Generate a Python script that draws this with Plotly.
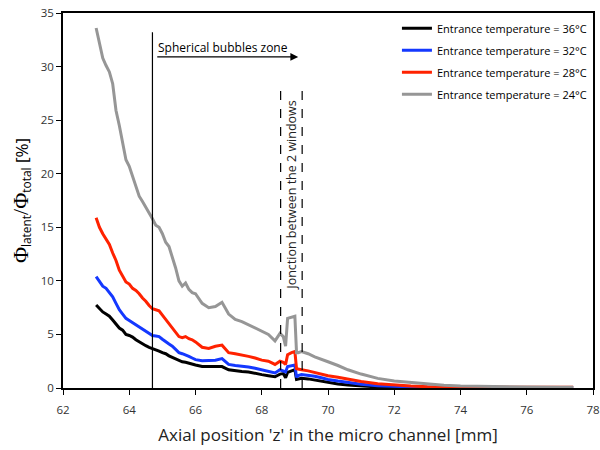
import plotly.graph_objects as go

x_mm = [63.0, 63.1, 63.2, 63.3, 63.4, 63.5, 63.6, 63.7, 63.8, 63.9, 64.0, 64.1, 64.2, 64.3,
        64.4, 64.5, 64.6, 64.7, 64.8, 64.9, 65.0, 65.1, 65.2, 65.3, 65.4, 65.5, 65.6, 65.7,
        65.8, 65.9, 66.0, 66.2, 66.4, 66.6, 66.8, 67.0, 67.2, 67.4, 67.6, 67.8, 68.0, 68.2,
        68.4, 68.55, 68.65, 68.72, 68.78, 68.9, 69.0, 69.05, 69.1, 69.2, 69.4, 69.6, 69.8,
        70.0, 70.3, 70.6, 71.0, 71.5, 72.0, 72.5, 73.0, 73.5, 74.0, 75.0, 76.0, 77.0, 77.4]

t36 = [7.75, 7.4, 7.1, 6.9, 6.7, 6.35, 6.0, 5.6, 5.4, 5.0, 4.9, 4.75, 4.5, 4.3,
       4.15, 3.95, 3.8, 3.7, 3.55, 3.45, 3.3, 3.2, 3.0, 2.85, 2.7, 2.55, 2.45, 2.4,
       2.3, 2.25, 2.15, 2.0, 2.0, 1.95, 2.0, 1.7, 1.6, 1.55, 1.5, 1.35, 1.25, 1.15,
       1.05, 1.3, 1.35, 0.95, 1.45, 1.6, 1.7, 0.8, 0.85, 0.9, 0.85, 0.75, 0.65,
       0.5, 0.38, 0.28, 0.18, 0.1, 0.06, 0.05, 0.04, 0.04, 0.04, 0.04, 0.04, 0.04, 0.04]

t32 = [10.4, 9.9, 9.5, 9.3, 8.9, 8.5, 7.9, 7.3, 6.9, 6.5, 6.3, 6.1, 5.9, 5.7,
       5.5, 5.3, 5.1, 4.9, 4.85, 4.8, 4.55, 4.3, 4.1, 3.9, 3.6, 3.3, 3.2, 3.1,
       2.95, 2.8, 2.65, 2.55, 2.6, 2.6, 2.75, 2.2, 2.1, 2.05, 1.95, 1.85, 1.7, 1.6,
       1.4, 1.7, 1.6, 1.5, 2.0, 2.1, 2.15, 1.0, 1.15, 1.25, 1.2, 1.1, 0.95,
       0.8, 0.65, 0.5, 0.35, 0.22, 0.14, 0.1, 0.07, 0.06, 0.05, 0.05, 0.05, 0.05, 0.05]

t28 = [15.9, 15.0, 14.4, 13.9, 13.4, 12.6, 11.9, 11.0, 10.4, 9.9, 9.7, 9.3, 9.1, 8.8,
       8.4, 8.1, 7.7, 7.4, 7.3, 7.2, 6.8, 6.4, 6.0, 5.6, 5.2, 4.8, 4.7, 4.8,
       4.6, 4.5, 4.3, 3.8, 3.7, 3.9, 4.0, 3.3, 3.2, 3.1, 2.95, 2.8, 2.6, 2.5,
       2.2, 2.5, 2.4, 2.2, 3.1, 3.3, 3.4, 1.8, 1.75, 1.7, 1.6, 1.45, 1.3,
       1.15, 1.0, 0.8, 0.6, 0.4, 0.28, 0.18, 0.12, 0.1, 0.08, 0.07, 0.06, 0.06, 0.06]

t24 = [33.6, 32.2, 30.8, 30.1, 29.5, 28.4, 25.9, 24.5, 22.8, 21.3, 20.7, 19.7, 18.9, 17.9,
       17.4, 16.9, 16.3, 15.8, 15.2, 15.0, 14.4, 13.6, 13.2, 12.3, 11.2, 10.0, 9.5, 9.8,
       9.2, 8.9, 8.8, 7.9, 7.5, 7.6, 8.0, 6.9, 6.4, 6.2, 5.9, 5.6, 5.3, 5.0,
       4.4, 5.1, 4.8, 3.9, 6.5, 6.6, 6.7, 3.3, 3.3, 3.4, 3.2, 2.9, 2.7,
       2.45, 2.1, 1.7, 1.3, 0.9, 0.65, 0.5, 0.35, 0.25, 0.18, 0.12, 0.1, 0.08, 0.08]

series_names = ["Entrance temperature = 36°C", "Entrance temperature = 32°C",
                "Entrance temperature = 28°C", "Entrance temperature = 24°C"]
series_values = [t36, t32, t28, t24]
series_colors = ["#000000", "#1438ff", "#ff2200", "#969696"]

x_ticks = [62, 64, 66, 68, 70, 72, 74, 76, 78]
y_ticks = [0, 5, 10, 15, 20, 25, 30, 35]

bubble_start = 64.7
arrow_end = 69.1
junction_lines = [68.57, 69.22]

fig = go.Figure()
for i, (name, vals, col) in enumerate(zip(series_names, series_values, series_colors)):
    fig.add_trace(go.Scatter(x=x_mm, y=vals, mode="lines", name=name,
                             legendgroup=str(i),
                             line=dict(color=col, width=3)))

shapes = [dict(type="line", xref="x", yref="y", x0=bubble_start, x1=bubble_start,
               y0=0, y1=33.2, line=dict(color="black", width=1.2))]
for xj in junction_lines:
    shapes.append(dict(type="line", xref="x", yref="y", x0=xj, x1=xj, y0=0, y1=28.1,
                       line=dict(color="black", width=1.2, dash="dash")))

annotations = [
    dict(x=arrow_end, y=30.9, ax=bubble_start + 0.1, ay=30.9, xref="x", yref="y",
         axref="x", ayref="y", showarrow=True, arrowhead=2, arrowsize=1.2,
         arrowwidth=1.3, arrowcolor="black", text=""),
    dict(x=bubble_start + 0.1, y=31.8, xref="x", yref="y", xanchor="left",
         yanchor="middle", showarrow=False, text="Spherical bubbles zone",
         font=dict(family="Open Sans", size=12, color="black")),
    dict(x=68.9, y=18.0, xref="x", yref="y", showarrow=False, textangle=-90,
         text="Jonction between the 2 windows",
         font=dict(family="Open Sans", size=12.5, color="#222222")),
]

serif = "font-family:'Liberation Serif', 'DejaVu Serif', serif;font-size:22px;"
ytitle = (f'<span style="{serif}">Φ</span>'
          '<sub>latent</sub>'
          f'<span style="{serif}">/Φ</span>'
          '<sub>total</sub> [%]')

fig.update_layout(
    width=600, height=450,
    margin=dict(l=63, r=7, t=13, b=62, autoexpand=False),
    paper_bgcolor="white", plot_bgcolor="white",
    font=dict(family="Open Sans", color="#333333"),
    shapes=shapes, annotations=annotations,
    showlegend=True,
    legend=dict(x=0.998, xanchor="right", y=0.998, yanchor="top",
                bgcolor="rgba(0,0,0,0)", font=dict(family="Open Sans", size=11, color="black"),
                tracegroupgap=3),
    xaxis=dict(range=[62, 78], tickvals=x_ticks, showgrid=False, zeroline=False,
               showline=True, linecolor="black", linewidth=1.5, mirror=True,
               ticks="outside", ticklen=5, tickcolor="black", automargin=False,
               ticklabeloverflow="allow", ticklabelstandoff=5,
               tickfont=dict(family="Open Sans", size=11.5, color="#333333"),
               title=dict(text="Axial position 'z' in the micro channel [mm]",
                          font=dict(family="Open Sans", size=17, color="#222222"),
                          standoff=14)),
    yaxis=dict(range=[0, 35], tickvals=y_ticks, showgrid=False, zeroline=False,
               showline=True, linecolor="black", linewidth=1.5, mirror=True,
               ticks="outside", ticklen=5, tickcolor="black", automargin=False,
               tickfont=dict(family="Open Sans", size=11.5, color="#333333"),
               title=dict(text=ytitle, font=dict(family="Open Sans", size=17, color="black"),
                          standoff=8)),
)

fig.write_html("out.html")
